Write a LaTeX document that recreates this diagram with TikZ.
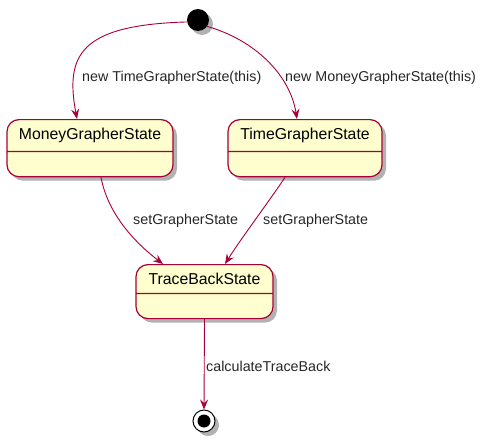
\documentclass[tikz,border=0pt]{standalone}
\usepackage{fontspec}
\setmainfont{Liberation Sans}
\usetikzlibrary{positioning,arrows.meta,shapes.multipart,shadows}
\definecolor{umlred}{HTML}{A80036}
\definecolor{umlfill}{HTML}{FEFECE}

\begin{document}
\begin{tikzpicture}[
        x=1pt, y=-1pt,
        every node/.style={font=\fontsize{14.3}{16}\selectfont},
        umlshadow/.style={drop shadow={shadow xshift=4pt, shadow yshift=-4pt, opacity=0.3, fill=black}},
        statebox/.style={rectangle split, rectangle split parts=2, draw=umlred, fill=umlfill, line width=1.2pt, rounded corners=12pt, minimum height=57pt, inner ysep=8pt, rectangle split empty part height=8pt, font=\fontsize{15.8}{18}\selectfont, umlshadow},
        initstate/.style={circle, fill=black, minimum size=22pt, inner sep=0pt, umlshadow},
        finalstate/.style={circle, draw=black, line width=1pt, fill=white, minimum size=22pt, inner sep=0pt, umlshadow, path picture={\fill[black] (path picture bounding box.center) circle (6.5pt);}},
        trans/.style={-{Stealth[length=10pt, width=8pt, inset=3.5pt]}, umlred, line width=0.9pt},
        translabel/.style={anchor=west, inner sep=0pt, text=black!85}
    ]
        \useasboundingbox (0,0) rectangle (490,442);

        % States
        \node[initstate] (start) at (198,20) {};
        \node[statebox, minimum width=166pt, anchor=north] (money) at (90,119) {MoneyGrapherState \nodepart{two}};
        \node[statebox, minimum width=154pt, anchor=north] (time) at (305,119) {TimeGrapherState \nodepart{two}};
        \node[statebox, minimum width=137pt, anchor=north] (trace) at (204.5,264) {TraceBackState \nodepart{two}};
        \node[finalstate] (end) at (204,421) {};

        % Transitions from the initial state
        \draw[trans] (start.190) .. controls (80,25) and (65,55) .. ([xshift=-13pt]money.north);
        \draw[trans] (start.325) .. controls (255,40) and (290,75) .. ([xshift=-8pt]time.north);

        % Transitions into TraceBackState
        \draw[trans] ([xshift=11pt]money.south) .. controls (106,205) and (125,235) .. ([xshift=-41.5pt]trace.north);
        \draw[trans] ([xshift=-20pt]time.south) .. controls (270,200) and (240,240) .. ([xshift=20.5pt]trace.north);

        % Final transition
        \draw[trans] (trace.south) -- (end.north);

        % Labels
        \node[translabel] (lbltime) at (82,78) {new TimeGrapherState(this)};
        \node[translabel] (lblmoney) at (285,78) {new MoneyGrapherState(this)};
        \node[translabel] (lblset1) at (133,221) {setGrapherState};
        \node[translabel] (lblset2) at (263,221) {setGrapherState};
        \node[translabel] (lblcalc) at (206,366) {calculateTraceBack};

    \end{tikzpicture}
\end{document}
